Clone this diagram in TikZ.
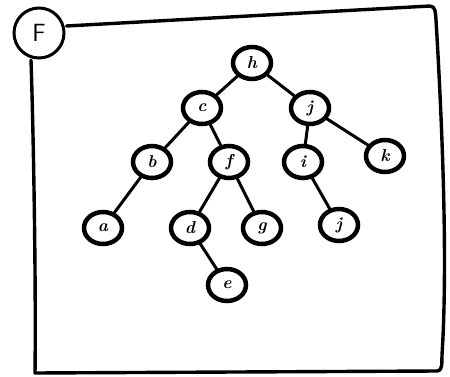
\documentclass[tikz,border=0pt]{standalone}
\usetikzlibrary{shapes.geometric}
\begin{document}
\begin{tikzpicture}[x=1pt,y=-1pt,
  tn/.style={ellipse,draw=black,line width=4.5pt,minimum width=38pt,minimum height=32pt,inner sep=0pt,font=\LARGE\bfseries\itshape},
  edge/.style={line width=3pt,line cap=round},
  frame/.style={line width=3.4pt,line cap=round,line join=round}]
\useasboundingbox (0,0) rectangle (450,377);
% frame
\node[circle,draw,line width=3pt,minimum size=50pt,inner sep=0pt,font=\Huge\sffamily] (F) at (39,33) {F};
\coordinate (tl) at (31,60);
\coordinate (tr) at (430,6);
\coordinate (br) at (437,371);
\coordinate (bl) at (35,373);
\draw[frame] (F.east) ++(1,-7) -- (tr) to[out=0,in=95] (436,20) .. controls (442,120) and (448,260) .. (442,355) to[out=-95,in=5] (br) -- (bl) .. controls (36,300) and (34,150) .. (tl);
% nodes
\node[tn] (h) at (252,63) {h};
\node[tn] (c) at (202,108) {c};
\node[tn] (jj) at (310,108) {j};
\node[tn] (b) at (152,162) {b};
\node[tn] (f) at (229,162) {f};
\node[tn] (i) at (303,162) {i};
\node[tn] (k) at (385,156) {k};
\node[tn] (a) at (103,228) {a};
\node[tn] (d) at (190,228) {d};
\node[tn] (g) at (262,228) {g};
\node[tn] (j) at (339,225) {j};
\node[tn] (e) at (227,285) {e};
% edges
\draw[edge] (h) -- (c);
\draw[edge] (h) -- (jj);
\draw[edge] (c) -- (b);
\draw[edge] (c) -- (f);
\draw[edge] (b) -- (a);
\draw[edge] (f) -- (d);
\draw[edge] (f) -- (g);
\draw[edge] (d) -- (e);
\draw[edge] (jj) -- (i);
\draw[edge] (jj) -- (k);
\draw[edge] (i) -- (j);
\end{tikzpicture}
\end{document}
